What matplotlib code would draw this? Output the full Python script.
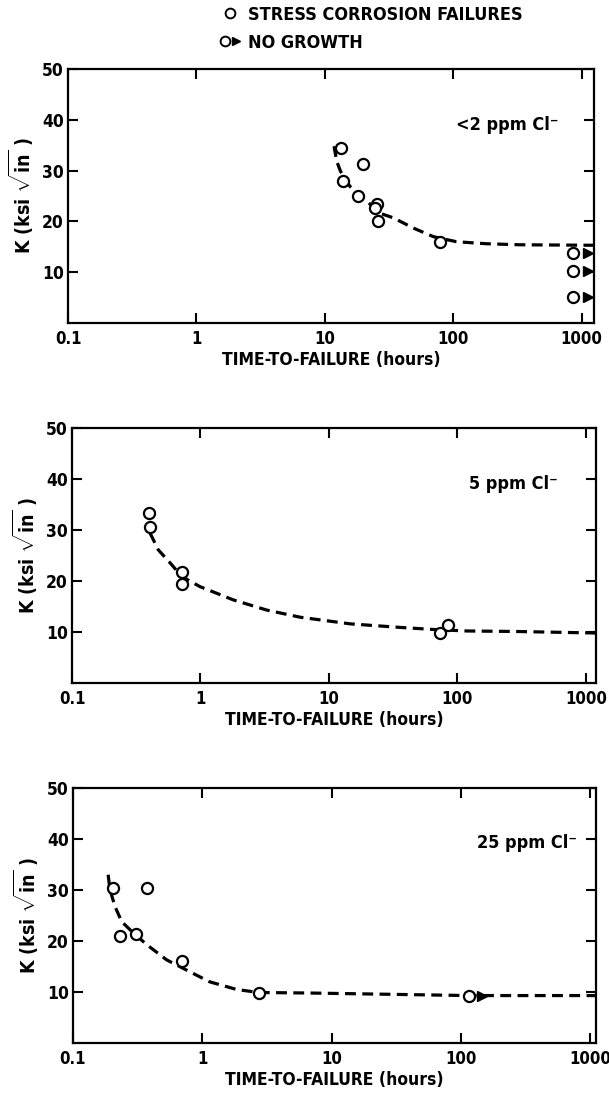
import matplotlib
matplotlib.use("Agg")
import matplotlib.pyplot as plt
from matplotlib.lines import Line2D
from matplotlib.legend_handler import HandlerTuple
from matplotlib.ticker import FixedLocator, NullLocator
import matplotlib.transforms as mtrans

plt.rcParams['font.family'] = ['DejaVu Sans']
plt.rcParams['font.stretch'] = 'condensed'
plt.rcParams['font.weight'] = 'bold'
plt.rcParams['axes.labelweight'] = 'bold'
plt.rcParams['mathtext.fontset'] = 'custom'
plt.rcParams['mathtext.rm'] = 'DejaVu Sans:bold:stretch=condensed'

# ---------------- data (time in hours, K in ksi*sqrt(in)) ----------------
# Panel 1: <2 ppm Cl-
p1_fail_t = [13.3, 19.7, 13.8, 18.2, 25.4, 24.6, 26.1, 78.9]
p1_fail_k = [34.5, 31.3, 27.9, 25.0, 23.5, 22.6, 20.0, 16.0]
p1_ng_t = [861, 861, 861]
p1_ng_k = [13.7, 10.3, 5.2]
p1_curve_t = [11.8, 12.4, 13.3, 15.7, 20.6, 26.9, 34.2, 48.9, 70, 106, 182, 331, 1250]
p1_curve_k = [34.8, 31.8, 29.8, 26.9, 24.3, 21.6, 20.7, 18.7, 17.0, 16.0, 15.6, 15.4, 15.3]

# Panel 2: 5 ppm Cl-
p2_fail_t = [0.40, 0.405, 0.714, 0.714, 73.5, 84.3]
p2_fail_k = [33.3, 30.6, 21.7, 19.4, 9.9, 11.3]
p2_curve_t = [0.405, 0.47, 0.597, 0.714, 0.99, 1.80, 3.28, 5.97, 14.6, 35.8, 64.9, 118, 289, 1200]
p2_curve_k = [29.4, 26.1, 23.2, 20.9, 18.9, 16.3, 14.3, 12.9, 11.6, 10.9, 10.5, 10.2, 10.1, 9.8]

# Panel 3: 25 ppm Cl-
p3_fail_t = [0.205, 0.371, 0.233, 0.306, 0.698, 2.73]
p3_fail_k = [30.3, 30.4, 21.0, 21.4, 16.1, 9.8]
p3_ng_t = [116]
p3_ng_k = [9.3]
p3_curve_t = [0.187, 0.193, 0.211, 0.238, 0.284, 0.371, 0.53, 0.755, 1.14, 1.84, 2.73, 6.76, 116, 1110]
p3_curve_k = [33.0, 30.1, 26.8, 23.8, 21.9, 19.3, 16.3, 14.3, 12.0, 10.5, 9.9, 9.8, 9.3, 9.3]

x_ticks = [0.1, 1, 10, 100, 1000]
x_tick_labels = ["0.1", "1", "10", "100", "1000"]
y_ticks = [10, 20, 30, 40, 50]
panel_labels = ["<2 ppm Cl\u207b", "5 ppm Cl\u207b", "25 ppm Cl\u207b"]
x_title = "TIME-TO-FAILURE (hours)"
y_title = r"K (ksi $\sqrt{\mathrm{in}}$ )"
legend_labels = ["STRESS CORROSION FAILURES", "NO GROWTH"]

W, H = 609, 1095
fig = plt.figure(figsize=(W / 100, H / 100), dpi=100)

# axes boxes in pixels: left, right, top, bottom
boxes = [(68, 594, 69, 323), (72, 596, 428, 683), (73, 596, 788, 1043)]
xmaxes = [1250, 1200, 1110]
label_pos = [(0.738, 0.78), (0.758, 0.78), (0.773, 0.786)]

panels = [
    (p1_fail_t, p1_fail_k, p1_ng_t, p1_ng_k, p1_curve_t, p1_curve_k, 15),
    (p2_fail_t, p2_fail_k, [], [], p2_curve_t, p2_curve_k, 13),
    (p3_fail_t, p3_fail_k, p3_ng_t, p3_ng_k, p3_curve_t, p3_curve_k, 13),
]

FS = 12
for i, (box, xmax, lp, pdata) in enumerate(zip(boxes, xmaxes, label_pos, panels)):
    l, r, t, b = box
    ax = fig.add_axes([l / W, 1 - b / H, (r - l) / W, (b - t) / H])
    ft, fk, nt, nk, ct, ck, off = pdata
    ax.set_xscale('log')
    ax.set_xlim(0.1, xmax)
    ax.set_ylim(0, 50)
    ax.plot(ct, ck, color='black', lw=2.3, dashes=(3.4, 2.0), zorder=2,
            solid_capstyle='butt', dash_capstyle='butt')
    ax.plot(ft, fk, 'o', ms=8, mfc='white', mec='black', mew=1.6, zorder=4)
    if nt:
        ax.plot(nt, nk, 'o', ms=8, mfc='white', mec='black', mew=1.6, zorder=4)
        tr = mtrans.offset_copy(ax.transData, fig=fig, x=off, y=0, units='dots')
        ax.plot(nt, nk, '>', ms=7, color='black', transform=tr, zorder=5,
                clip_on=False)
    ax.xaxis.set_major_locator(FixedLocator(x_ticks))
    ax.xaxis.set_minor_locator(NullLocator())
    ax.set_xticklabels(x_tick_labels)
    ax.yaxis.set_major_locator(FixedLocator(y_ticks))
    ax.tick_params(direction='in', length=7, width=1.5, top=True, right=True,
                   labelsize=FS, pad=5)
    ax.tick_params(axis='y', labelsize=12.5, pad=3)
    for s in ax.spines.values():
        s.set_linewidth(1.6)
    ax.set_xlabel(x_title, fontsize=12.5, labelpad=2)
    ax.set_ylabel(y_title, fontsize=14, labelpad=4)
    ax.text(lp[0], lp[1], panel_labels[i], transform=ax.transAxes,
            fontsize=13, ha='left', va='center')

# legend at the top
h1 = Line2D([], [], marker='o', ls='none', ms=7, mfc='white', mec='black', mew=1.4)
h2a = Line2D([], [], marker='o', ls='none', ms=7, mfc='white', mec='black', mew=1.4)
h2b = Line2D([], [], marker='>', ls='none', ms=6, color='black')
fig.legend([h1, (h2a, h2b)], legend_labels, loc='upper left',
           bbox_to_anchor=(206 / W, 1 + 7 / H), frameon=False, fontsize=13,
           handlelength=1.3, handletextpad=0.35, labelspacing=0.55,
           borderpad=0.2,
           handler_map={tuple: HandlerTuple(ndivide=2, pad=0.0)})

fig.savefig("out.png", dpi=100)
